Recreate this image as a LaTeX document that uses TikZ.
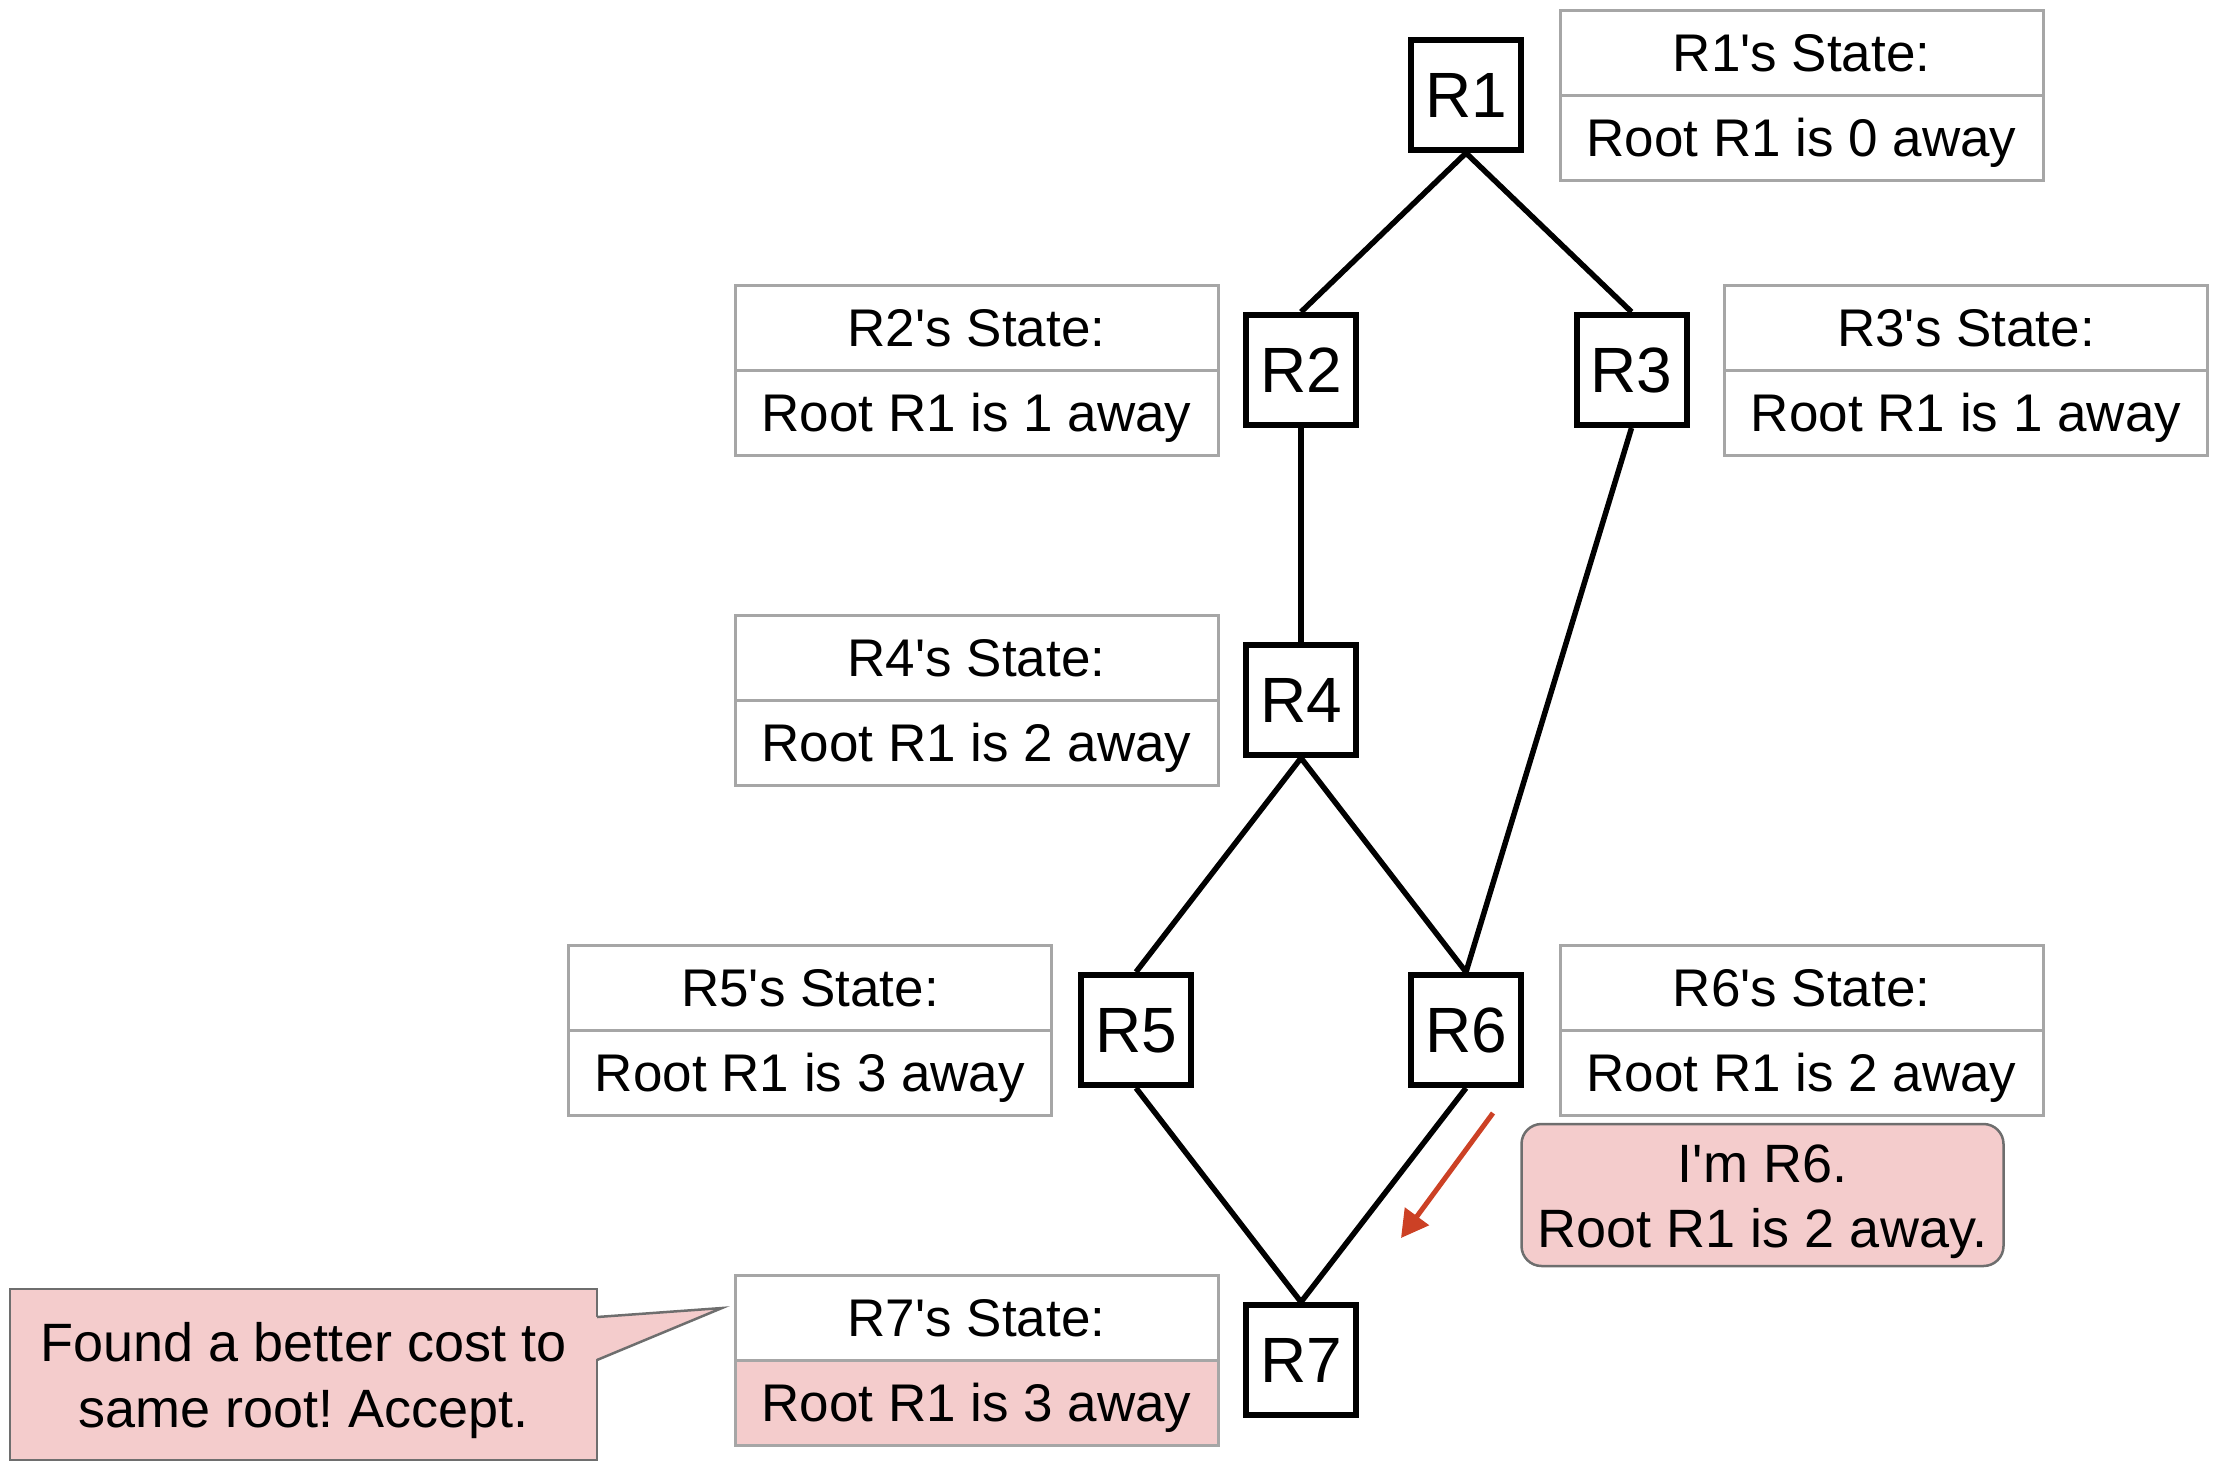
\documentclass[tikz,border=0pt]{standalone}
\usepackage{fontspec}
\setmainfont{Liberation Sans}
\usetikzlibrary{arrows.meta}
\definecolor{pinkfill}{HTML}{F4CCCC}
\definecolor{tablegray}{HTML}{A6A6A6}
\definecolor{notegray}{HTML}{6E6E6E}
\definecolor{arrowred}{HTML}{CC4125}
\newcommand\sq{\textquotesingle}
\frenchspacing
\begin{document}
\begin{tikzpicture}[x=1pt,y=-1pt,
  router/.style={draw=black, line width=6pt, fill=white, minimum size=110pt, inner sep=0pt,
    font=\fontsize{64}{70}\selectfont, text height=45.8pt, text depth=0pt},
  cell/.style={draw=tablegray, line width=3pt, minimum width=483pt, minimum height=85pt, inner sep=0pt,
    font=\fontsize{53}{60}\selectfont, text height=37.9pt, text depth=0pt},
  link/.style={draw=black, line width=5.5pt},
  notebox/.style={draw=notegray, line width=2.5pt, fill=pinkfill, inner sep=0pt},
  notetext/.style={anchor=base, inner sep=0pt, font=\fontsize{54}{66}\selectfont},
  redarrow/.style={draw=arrowred, line width=5pt, -{Triangle[length=27pt,width=29pt]}}
]
\useasboundingbox (0,0) rectangle (2213,1475);

% routers
\node[router] (R1) at (1466,95) {R1};
\node[router] (R2) at (1301,370) {R2};
\node[router] (R3) at (1631.5,370) {R3};
\node[router] (R4) at (1301,700) {R4};
\node[router] (R5) at (1136,1030) {R5};
\node[router] (R6) at (1466,1030) {R6};
\node[router] (R7) at (1301,1360) {R7};

% links
\draw[link] (R1.south) -- (R2.north);
\draw[link] (R1.south) -- (R3.north);
\draw[link] (R2.south) -- (R4.north);
\draw[link] (R3.south) -- (R6.north);
\draw[link] (R4.south) -- (R5.north);
\draw[link] (R4.south) -- (R6.north);
\draw[link] (R5.south) -- (R7.north);
\draw[link] (R6.south) -- (R7.north);

% state tables
\node[cell] (S1h) at (1801.5,52.5) {R1\sq s State:};
\node[cell] (S1v) at (1801.5,137.5) {Root R1 is 0 away};
\node[cell] (S2h) at (976.5,327.5) {R2\sq s State:};
\node[cell] (S2v) at (976.5,412.5) {Root R1 is 1 away};
\node[cell] (S3h) at (1966,327.5) {R3\sq s State:};
\node[cell] (S3v) at (1966,412.5) {Root R1 is 1 away};
\node[cell] (S4h) at (976.5,657.5) {R4\sq s State:};
\node[cell] (S4v) at (976.5,742.5) {Root R1 is 2 away};
\node[cell] (S5h) at (810,987.5) {R5\sq s State:};
\node[cell] (S5v) at (810,1072.5) {Root R1 is 3 away};
\node[cell] (S6h) at (1801.5,987.5) {R6\sq s State:};
\node[cell] (S6v) at (1801.5,1072.5) {Root R1 is 2 away};
\node[cell] (S7h) at (976.5,1317.5) {R7\sq s State:};
\node[cell, fill=pinkfill] (S7v) at (976.5,1402.5) {Root R1 is 3 away};

% message from R6
\node[notebox, rounded corners=20pt, minimum width=482pt, minimum height=142pt] (msg) at (1762.5,1195) {};
\node[notetext] (msg1) at (1762.5,1182) {I\sq m R6.};
\node[notetext] (msg2) at (1762.5,1247) {Root R1 is 2 away.};
\coordinate (a1) at (1493,1113);
\coordinate (a2) at (1401,1238);
\draw[redarrow] (a1) -- (a2);

% speech callout
\node[notebox, minimum width=587pt, minimum height=171pt] (note) at (303.5,1374.5) {};
\coordinate (tip) at (722,1308);
\fill[pinkfill] (594,1317) -- (tip) -- (594,1360) -- cycle;
\draw[notegray, line width=2.5pt, line join=miter] (597,1317) -- (tip) -- (597,1360);
\node[notetext] (note1) at (303.5,1361) {Found a better cost to};
\node[notetext] (note2) at (303.5,1427) {same root! Accept.};
\end{tikzpicture}
\end{document}
